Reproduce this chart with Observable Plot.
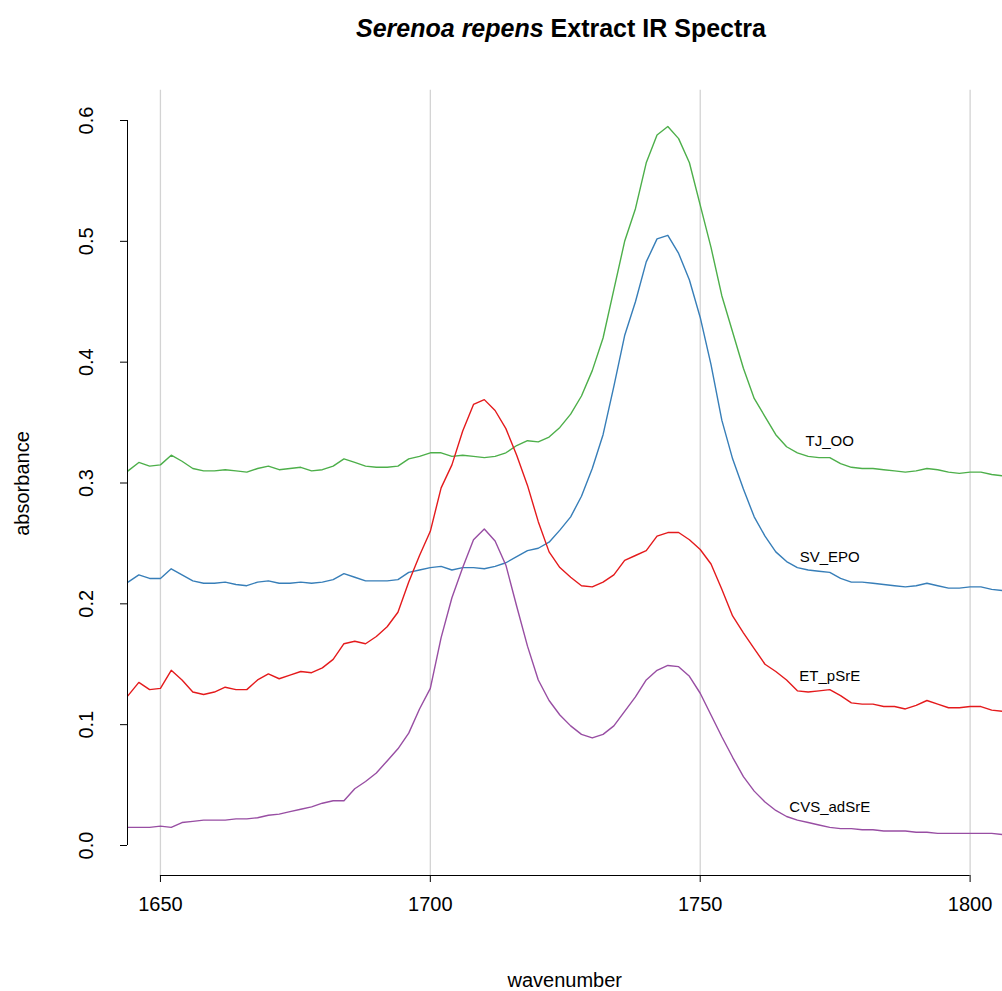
<!DOCTYPE html>
<html><head><meta charset="utf-8">
<script src="https://cdn.jsdelivr.net/npm/d3@7"></script>
<script src="https://cdn.jsdelivr.net/npm/@observablehq/plot@0.6"></script>
<style>body{margin:0;background:#fff;font-family:"Liberation Sans",Arial,sans-serif}
#t{height:60px;text-align:center;font-weight:bold;font-size:25px;line-height:56px;padding-left:120px}</style>
</head><body>
<div id="t"><i>Serenoa repens</i> Extract IR Spectra</div>
<div id="c"></div>
<script>
const start = 1644, step = 2;
const TJ_OO = [0.310,0.317,0.314,0.315,0.323,0.318,0.312,0.310,0.310,0.311,0.310,0.309,0.312,0.314,0.311,0.312,0.313,0.310,0.311,0.314,0.320,0.317,0.314,0.313,0.313,0.314,0.320,0.322,0.325,0.325,0.322,0.323,0.322,0.321,0.322,0.325,0.331,0.335,0.334,0.338,0.346,0.357,0.372,0.393,0.420,0.460,0.500,0.527,0.565,0.588,0.595,0.585,0.565,0.530,0.495,0.455,0.425,0.395,0.370,0.355,0.340,0.330,0.325,0.322,0.321,0.321,0.316,0.313,0.312,0.312,0.311,0.310,0.309,0.310,0.312,0.311,0.309,0.308,0.309,0.309,0.307,0.306];
const SV_EPO = [0.218,0.224,0.221,0.221,0.229,0.224,0.219,0.217,0.217,0.218,0.216,0.215,0.218,0.219,0.217,0.217,0.218,0.217,0.218,0.220,0.225,0.222,0.219,0.219,0.219,0.220,0.226,0.228,0.230,0.231,0.228,0.230,0.230,0.229,0.231,0.234,0.239,0.244,0.246,0.251,0.261,0.272,0.289,0.312,0.340,0.380,0.422,0.450,0.483,0.502,0.505,0.490,0.468,0.437,0.398,0.352,0.320,0.295,0.272,0.256,0.243,0.235,0.230,0.228,0.227,0.226,0.221,0.218,0.218,0.217,0.216,0.215,0.214,0.215,0.217,0.215,0.213,0.213,0.214,0.214,0.212,0.211];
const ET_pSrE = [0.124,0.135,0.129,0.130,0.145,0.137,0.127,0.125,0.127,0.131,0.129,0.129,0.137,0.142,0.138,0.141,0.144,0.143,0.147,0.154,0.167,0.169,0.167,0.173,0.181,0.193,0.218,0.240,0.260,0.296,0.315,0.343,0.365,0.369,0.360,0.345,0.323,0.298,0.268,0.243,0.230,0.222,0.215,0.214,0.218,0.224,0.236,0.240,0.244,0.256,0.259,0.259,0.253,0.245,0.233,0.212,0.190,0.176,0.163,0.150,0.144,0.137,0.128,0.127,0.128,0.129,0.124,0.118,0.117,0.117,0.115,0.115,0.113,0.116,0.120,0.117,0.114,0.114,0.115,0.115,0.112,0.111];
const CVS_adSrE = [0.015,0.015,0.015,0.016,0.015,0.019,0.020,0.021,0.021,0.021,0.022,0.022,0.023,0.025,0.026,0.028,0.030,0.032,0.035,0.037,0.037,0.047,0.053,0.060,0.070,0.080,0.093,0.113,0.130,0.172,0.205,0.230,0.253,0.262,0.252,0.232,0.198,0.165,0.137,0.120,0.108,0.099,0.092,0.089,0.092,0.099,0.111,0.123,0.137,0.145,0.149,0.148,0.140,0.126,0.108,0.090,0.073,0.057,0.045,0.036,0.029,0.024,0.021,0.019,0.017,0.015,0.014,0.014,0.013,0.013,0.012,0.012,0.012,0.011,0.011,0.010,0.010,0.010,0.010,0.010,0.010,0.009];
const seriesNames = ["TJ_OO","SV_EPO","ET_pSrE","CVS_adSrE"];
const seriesVals = [TJ_OO, SV_EPO, ET_pSrE, CVS_adSrE];
const colors = ["#4DAF4A","#377EB8","#E41A1C","#984EA3"];
const labelY = [0.335,0.239,0.140,0.032];
const xTicks = [1650,1700,1750,1800];
const yTicks = [0,0.1,0.2,0.3,0.4,0.5,0.6];

const rows = [];
seriesVals.forEach((arr,i)=>arr.forEach((v,j)=>rows.push({s:seriesNames[i], x:start+j*step, y:v})));
const labels = seriesNames.map((s,i)=>({s, x:1774, y:labelY[i]}));

const chart = Plot.plot({
  width:1002, height:931,
  marginLeft:127, marginRight:0, marginTop:60, marginBottom:146,
  style:{fontFamily:"Liberation Sans, Arial, sans-serif", background:"#fff", overflow:"visible"},
  x:{domain:[1643.9,1806]},
  y:{domain:[0,0.6]},
  color:{domain:seriesNames, range:colors},
  marks:[
    Plot.ruleX(xTicks,{y1:-0.025,y2:0.625,stroke:"#d3d3d3",strokeWidth:1.3,clip:false}),
    Plot.line(rows,{x:"x",y:"y",z:"s",stroke:"s",strokeWidth:1.4,clip:true}),
    Plot.text(labels,{x:"x",y:"y",text:"s",fontSize:15,fill:"#000"}),
    Plot.ruleX([1643.9],{y1:0,y2:0.6,stroke:"#000"}),
    Plot.ruleY([0],{x1:1650,x2:1800,dy:30,stroke:"#000"}),
    Plot.axisX({ticks:xTicks,tickFormat:d=>String(d),dy:30,tickSize:7,fontSize:20,tickPadding:14,label:null,stroke:"#000"}),
    Plot.axisY({ticks:yTicks,tickFormat:d3.format(".1f"),tickSize:7,tickRotate:-90,fontSize:20,tickPadding:28,label:null,stroke:"#000"}),
    Plot.text(["wavenumber"],{x:1724.9,y:-0.112,fontSize:20,clip:false}),
    Plot.text(["absorbance"],{x:1624.5,y:0.2996,fontSize:20,rotate:-90,clip:false})
  ]
});
document.getElementById("c").appendChild(chart);
</script>
</body></html>
